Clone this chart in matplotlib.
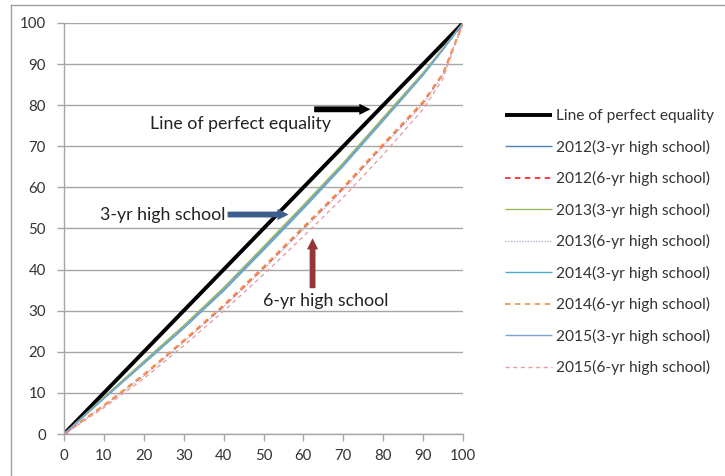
import matplotlib
matplotlib.use("Agg")
import matplotlib.pyplot as plt
from matplotlib.lines import Line2D

plt.rcParams['font.family'] = ['Lato', 'DejaVu Sans']

# Cumulative share of students (%)
x = [0, 10, 20, 30, 40, 50, 60, 70, 80, 90, 95, 100]
equality = [0, 10, 20, 30, 40, 50, 60, 70, 80, 90, 95, 100]

y2012_3 = [0, 8.8, 17.4, 26.0, 35.2, 45.2, 55.3, 65.6, 76.6, 87.6, 93.7, 100]
y2012_6 = [0, 6.9, 14.3, 22.6, 31.1, 40.4, 50.1, 59.8, 70.3, 80.6, 87.6, 100]
y2013_3 = [0, 9.0, 17.7, 26.4, 35.6, 45.6, 55.7, 66.0, 77.0, 87.9, 93.9, 100]
y2013_6 = [0, 6.8, 14.2, 22.4, 30.9, 40.1, 49.8, 59.5, 70.0, 80.3, 87.4, 100]
y2014_3 = [0, 8.6, 17.1, 25.7, 34.8, 44.7, 54.8, 65.2, 76.2, 87.3, 93.5, 100]
y2014_6 = [0, 7.0, 14.5, 22.8, 31.4, 40.7, 50.4, 60.1, 70.6, 80.9, 87.8, 100]
y2015_3 = [0, 8.7, 17.3, 25.9, 35.0, 45.0, 55.1, 65.4, 76.4, 87.5, 93.6, 100]
y2015_6 = [0, 6.4, 13.5, 21.5, 29.9, 38.8, 48.1, 57.6, 68.0, 79.0, 86.5, 100]

ticks = [0, 10, 20, 30, 40, 50, 60, 70, 80, 90, 100]

series = [
    ("Line of perfect equality", equality, dict(color="black", lw=2.8, ls="-")),
    ("2012(3-yr high school)", y2012_3, dict(color="#4F81BD", lw=1.0, ls="-")),
    ("2012(6-yr high school)", y2012_6, dict(color="#FF2A2A", lw=1.3, ls=(0, (3, 2.5)))),
    ("2013(3-yr high school)", y2013_3, dict(color="#9BBB59", lw=1.0, ls="-")),
    ("2013(6-yr high school)", y2013_6, dict(color="#B8AED6", lw=1.0, ls=(0, (1, 1)))),
    ("2014(3-yr high school)", y2014_3, dict(color="#4BACC6", lw=1.0, ls="-")),
    ("2014(6-yr high school)", y2014_6, dict(color="#F79646", lw=1.3, ls=(0, (3, 2.5)))),
    ("2015(3-yr high school)", y2015_3, dict(color="#7FA3D6", lw=1.0, ls="-")),
    ("2015(6-yr high school)", y2015_6, dict(color="#E8A0A0", lw=1.0, ls=(0, (3, 2.5)))),
]

fig = plt.figure(figsize=(7.25, 4.76), dpi=100)
ax = fig.add_axes([64 / 725, 1 - 434 / 476, 399 / 725, 411 / 476])

for label, ys, st in series:
    ax.plot(x, ys, label=label, solid_capstyle='butt', **st)

ax.set_xlim(0, 100)
ax.set_ylim(0, 100)
ax.set_xticks(ticks)
ax.set_yticks(ticks)
ax.yaxis.grid(True, color="#A6A6A6", lw=1.0)
ax.set_axisbelow(True)
for s in ["top", "right"]:
    ax.spines[s].set_visible(False)
for s in ["left", "bottom"]:
    ax.spines[s].set_color("#A6A6A6")
    ax.spines[s].set_linewidth(1.0)
ax.tick_params(axis="both", direction="out", length=5, width=1.0, color="#A6A6A6",
               labelsize=10.8, labelcolor="#333333")
ax.tick_params(axis="x", pad=6)
ax.tick_params(axis="y", pad=8)

# Annotations
arrow_style = "simple,head_length=0.8,head_width=0.8,tail_width=0.42"
ax.text(21.5, 75.5, "Line of perfect equality", fontsize=12.8, color="#222222", va="center")
ax.annotate("", xy=(77.5, 79.0), xytext=(62.0, 79.0),
            arrowprops=dict(arrowstyle=arrow_style, color="black", lw=0))
ax.text(9.0, 53.4, "3-yr high school", fontsize=12.8, color="#222222", va="center")
ax.annotate("", xy=(57.0, 53.4), xytext=(40.3, 53.4),
            arrowprops=dict(arrowstyle=arrow_style, color="#3B5E8C", lw=0))
ax.text(49.8, 32.3, "6-yr high school", fontsize=12.8, color="#222222", va="center")
ax.annotate("", xy=(62.3, 48.3), xytext=(62.3, 34.8),
            arrowprops=dict(arrowstyle=arrow_style, color="#953735", lw=0))

# Legend
leg = ax.legend(loc="upper left", bbox_to_anchor=(505 / 725, 1 - 109 / 476),
                bbox_transform=fig.transFigure, frameon=False, fontsize=11.2,
                handlelength=3.0, handletextpad=0.25, labelspacing=1.06,
                borderaxespad=0, borderpad=0)
for t in leg.get_texts():
    t.set_color("#333333")

# Outer frame (left and top edges visible)
fig.add_artist(Line2D([10.5 / 725, 10.5 / 725], [0, 1 - 4.5 / 476], color="#A0A0A0", lw=1.0,
                      transform=fig.transFigure))
fig.add_artist(Line2D([10.5 / 725, 1], [1 - 4.5 / 476, 1 - 4.5 / 476], color="#A0A0A0", lw=1.0,
                      transform=fig.transFigure))

fig.savefig("out.png", dpi=100)
